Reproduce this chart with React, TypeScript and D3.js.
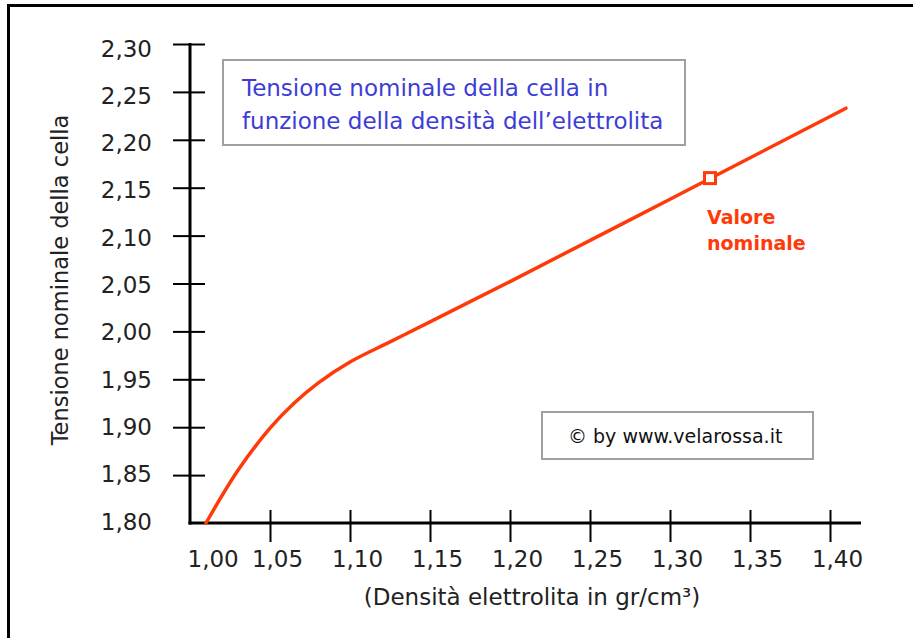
import React, { useEffect, useRef } from 'react';
import * as d3 from 'd3';

// values
const density = [1.01, 1.03, 1.05, 1.065, 1.08, 1.10, 1.125, 1.15, 1.20, 1.30, 1.41];
const voltage = [1.80, 1.855, 1.899, 1.925, 1.946, 1.968, 1.989, 2.010, 2.052, 2.138, 2.233];
const nominal = { density: 1.325, voltage: 2.16 };
const xTicks = [1.0, 1.05, 1.1, 1.15, 1.2, 1.25, 1.3, 1.35, 1.4];
const yTicks = [1.8, 1.85, 1.9, 1.95, 2.0, 2.05, 2.1, 2.15, 2.2, 2.25, 2.3];
const titleLines = ['Tensione nominale della cella in', 'funzione della densità dell\u2019elettrolita'];
const nominalLines = ['Valore', 'nominale'];
const yTitle = 'Tensione nominale della cella';
const xTitle = '(Densità elettrolita in gr/cm\u00b3)';
const credit = '\u00a9 by www.velarossa.it';

const W = 913;
const H = 638;
const FONT = '"DejaVu Sans", Verdana, sans-serif';
const RED = '#ff3a0a';

const fmt = (v: number) => d3.format('.2f')(v).replace('.', ',');

export default function App() {
    const ref = useRef<SVGSVGElement>(null);

    useEffect(() => {
        const svg = d3.select(ref.current);
        svg.selectAll('*').remove();

        const x = d3.scaleLinear().domain([1.0, 1.4]).range([190, 830]);
        const y = d3.scaleLinear().domain([1.8, 2.3]).range([523, 44]);

        svg.append('rect').attr('width', W).attr('height', H).attr('fill', '#fff');
        // outer frame, runs off the right and bottom edges
        svg.append('rect')
            .attr('x', 8.5).attr('y', 5.5)
            .attr('width', 1000).attr('height', 1000)
            .attr('fill', 'none').attr('stroke', '#000').attr('stroke-width', 3);

        // x axis
        const xAxis = d3.axisBottom(x).tickValues(xTicks).tickFormat(() => '').tickSizeOuter(0);
        const gx = svg.append('g').attr('transform', 'translate(0,' + y(1.8) + ')').call(xAxis);
        gx.select('.domain').remove();
        gx.selectAll('.tick line').attr('y1', -13).attr('y2', 19).attr('stroke', '#000').attr('stroke-width', 2);
        gx.selectAll('.tick').filter((d: any) => d === 1.0).select('line').remove();
        gx.selectAll('.tick').append('text')
            .text((d: any) => fmt(d))
            .attr('x', (d: any) => d === 1.0 ? -3 : 7)
            .attr('y', 44)
            .attr('text-anchor', (d: any) => d === 1.0 ? 'start' : 'middle')
            .attr('fill', '#222')
            .style('font-family', FONT).style('font-size', '23px');

        // y axis
        const yAxis = d3.axisLeft(y).tickValues(yTicks).tickFormat(() => '').tickSizeOuter(0);
        const gy = svg.append('g').attr('transform', 'translate(' + x(1.0) + ',0)').call(yAxis);
        gy.select('.domain').remove();
        gy.selectAll('.tick line').attr('x1', -17).attr('x2', 15).attr('stroke', '#000').attr('stroke-width', 2);
        gy.selectAll('.tick').filter((d: any) => d === 1.8).select('line').remove();
        gy.selectAll('.tick').append('text')
            .text((d: any) => fmt(d))
            .attr('x', -38)
            .attr('y', (d: any) => 9 + (d - 2.05) * 12)
            .attr('text-anchor', 'end')
            .attr('fill', '#222')
            .style('font-family', FONT).style('font-size', '23px');

        svg.append('line')
            .attr('x1', x(1.0)).attr('x2', x(1.0))
            .attr('y1', y(2.3) - 1).attr('y2', y(1.8) + 1.5)
            .attr('stroke', '#000').attr('stroke-width', 3);
        svg.append('line')
            .attr('x1', x(1.0) - 1.5).attr('x2', 861)
            .attr('y1', y(1.8)).attr('y2', y(1.8))
            .attr('stroke', '#000').attr('stroke-width', 3);

        // axis titles
        svg.append('text')
            .text(yTitle)
            .attr('transform', 'translate(68,280) rotate(-90)')
            .attr('text-anchor', 'middle')
            .attr('fill', '#222')
            .style('font-family', FONT).style('font-size', '22.5px');
        svg.append('text')
            .text(xTitle)
            .attr('x', 532).attr('y', 605)
            .attr('text-anchor', 'middle')
            .attr('fill', '#222')
            .style('font-family', FONT).style('font-size', '23px');

        // title box
        svg.append('rect')
            .attr('x', 223).attr('y', 60).attr('width', 462).attr('height', 85)
            .attr('fill', '#fff').attr('stroke', '#a0a0a0').attr('stroke-width', 2);
        svg.append('text')
            .attr('fill', '#3d3dd6')
            .style('font-family', FONT).style('font-size', '23px')
            .selectAll('tspan')
            .data(titleLines)
            .join('tspan')
            .attr('x', 242)
            .attr('y', (d, i) => 96 + i * 33)
            .text(d => d);

        // credit box
        svg.append('rect')
            .attr('x', 542).attr('y', 412).attr('width', 271).attr('height', 47)
            .attr('fill', '#fff').attr('stroke', '#a0a0a0').attr('stroke-width', 2);
        svg.append('text')
            .text(credit)
            .attr('x', 568).attr('y', 443)
            .attr('fill', '#111')
            .style('font-family', FONT).style('font-size', '19px');

        // curve
        const pts = density.map((d, i) => [d, voltage[i]] as [number, number]);
        const line = d3.line<[number, number]>()
            .x(d => x(d[0]))
            .y(d => y(d[1]))
            .curve(d3.curveCatmullRom.alpha(0.5));
        svg.append('path')
            .datum(pts)
            .attr('d', line)
            .attr('fill', 'none')
            .attr('stroke', RED)
            .attr('stroke-width', 3.5)
            .attr('stroke-linecap', 'round');

        // nominal point
        svg.append('rect')
            .attr('x', x(nominal.density) - 5.5).attr('y', y(nominal.voltage) - 5.5)
            .attr('width', 11).attr('height', 11)
            .attr('fill', '#fff').attr('stroke', RED).attr('stroke-width', 3);
        svg.append('text')
            .attr('fill', RED)
            .style('font-family', FONT).style('font-size', '19px').style('font-weight', 'bold')
            .selectAll('tspan')
            .data(nominalLines)
            .join('tspan')
            .attr('x', x(nominal.density) - 3)
            .attr('y', (d, i) => y(nominal.voltage) + 46 + i * 26)
            .text(d => d);
    }, []);

    return (
        <svg ref={ref} width={W} height={H}
            style={{ position: 'absolute', left: 0, top: 0, display: 'block' }} />
    );
}
